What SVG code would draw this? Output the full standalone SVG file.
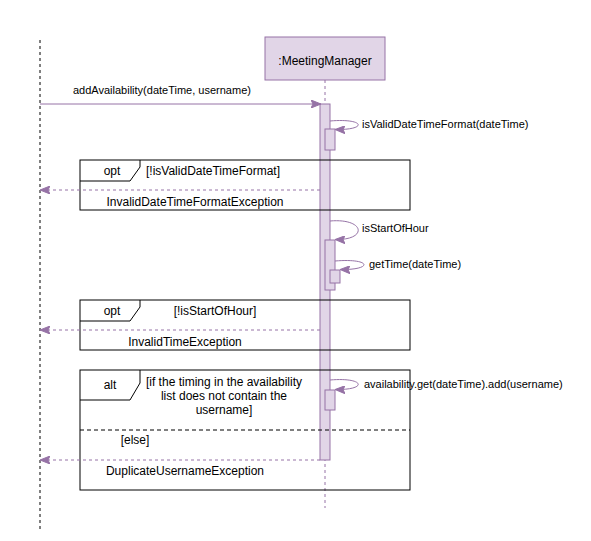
<svg xmlns="http://www.w3.org/2000/svg" width="591" height="541" viewBox="0 0 591 541">
<style>
text{font-family:"Liberation Sans",Arial,sans-serif;font-size:11px;fill:#000}
.c{text-anchor:middle}
.l{font-size:12px}
.act{fill:#e1d5e7;stroke:#9673a6;stroke-width:1}
.msg{fill:none;stroke:#9673a6;stroke-width:1}
.ret{fill:none;stroke:#9673a6;stroke-width:1;stroke-dasharray:3 3}
.frame{fill:none;stroke:#000;stroke-width:1}
</style>
<defs>
<marker id="ah" viewBox="0 0 10 8" refX="9" refY="4" markerWidth="10" markerHeight="8" markerUnits="userSpaceOnUse" orient="auto">
<path d="M0,0 L10,4 L0,8 L2,4 Z" fill="#9673a6" stroke="#9673a6" stroke-width="1"/>
</marker>
</defs>
<rect width="591" height="541" fill="#fff"/>

<g id="actor-left">
<line x1="40" y1="40" x2="40" y2="530" stroke="#000" stroke-dasharray="3 3"/>
</g>

<g id="meetingManager">
<rect x="265" y="37" width="120" height="43" fill="#e1d5e7" stroke="#9673a6"/>
<text class="c l" x="325" y="65">:MeetingManager</text>
<line x1="325" y1="80" x2="325" y2="508" stroke="#9673a6" stroke-dasharray="3 3"/>
<rect class="act" x="320" y="104" width="10" height="356"/>
</g>

<g id="frame-opt1">
<rect class="frame" x="80" y="160" width="330" height="50"/>
<path class="frame" d="M80,181 H130 L140,167 V160"/>
<text class="c l" x="112" y="175">opt</text>
<text class="l" x="146" y="175">[!isValidDateTimeFormat]</text>
</g>

<g id="frame-opt2">
<rect class="frame" x="80" y="300" width="330" height="50"/>
<path class="frame" d="M80,321 H130 L140,307 V300"/>
<text class="c l" x="112" y="315">opt</text>
<text class="c l" x="215" y="315">[!isStartOfHour]</text>
</g>

<g id="frame-alt">
<rect class="frame" x="80" y="370" width="330" height="120"/>
<path class="frame" d="M80,400 H130 L140,383 V370"/>
<line x1="80" y1="430" x2="410" y2="430" stroke="#000" stroke-dasharray="4 3"/>
<text class="c l" x="110" y="389">alt</text>
<text class="c l" x="224" y="386">[if the timing in the availability</text>
<text class="c l" x="224" y="400">list does not contain the</text>
<text class="c l" x="224" y="414">username]</text>
<text class="c l" x="135" y="444">[else]</text>
</g>

<g id="activations">
<rect class="act" x="325" y="129" width="10" height="21"/>
<rect class="act" x="325" y="240" width="10" height="50"/>
<rect class="act" x="330" y="270" width="10" height="13"/>
<rect class="act" x="325" y="390" width="10" height="20"/>
</g>

<g id="connectors">
<line class="msg" x1="40" y1="104" x2="320" y2="104" marker-end="url(#ah)"/>
<path class="msg" d="M330,121 C365,118 368,130 336,129.5" marker-end="url(#ah)"/>
<line class="ret" x1="320" y1="190" x2="41" y2="190" marker-end="url(#ah)"/>
<path class="msg" d="M330,221 C365,218 368,240 336,239.5" marker-end="url(#ah)"/>
<path class="msg" d="M335,261 C372,258 373,270 341,269.5" marker-end="url(#ah)"/>
<line class="ret" x1="320" y1="330" x2="41" y2="330" marker-end="url(#ah)"/>
<path class="msg" d="M330,380 C365,377 368,390 336,389.5" marker-end="url(#ah)"/>
<line class="ret" x1="320" y1="460" x2="41" y2="460" marker-end="url(#ah)"/>
</g>

<g id="labels">
<text x="73" y="94">addAvailability(dateTime, username)</text>
<text x="362" y="128">isValidDateTimeFormat(dateTime)</text>
<text class="c l" x="195" y="206">InvalidDateTimeFormatException</text>
<text x="362" y="232">isStartOfHour</text>
<text x="369" y="268">getTime(dateTime)</text>
<text class="c l" x="185" y="346">InvalidTimeException</text>
<text x="364" y="388">availability.get(dateTime).add(username)</text>
<text class="c l" x="185" y="475">DuplicateUsernameException</text>
</g>
</svg>
